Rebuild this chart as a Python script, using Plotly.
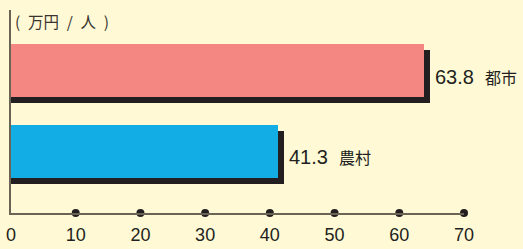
import plotly.graph_objects as go

categories = ["農村", "都市"]
values = [41.3, 63.8]
positions = [1, 2]
bar_colors = ["#12ade4", "#f58783"]
tick_vals = [0, 10, 20, 30, 40, 50, 60, 70]
dot_vals = [10, 20, 30, 40, 50, 60, 70]
unit_label = "(\u2002万円\u2002/\u2002人\u2002)"

BG = "#fffad5"
INK = "#231f20"
AXIS = "#6b6354"
FONT = "Liberation Sans, Arial, Noto Sans CJK JP"
CJK = "Noto Sans CJK JP"

y_lo, y_hi = 0.23, 2.752
bar_w = 0.658
shadow_dy = 0.08
shadow_dx = 0.93

fig = go.Figure()

# shadows
fig.add_trace(go.Bar(
    x=[v + shadow_dx for v in values],
    y=[p - shadow_dy for p in positions],
    orientation="h", width=bar_w,
    marker=dict(color=INK, line=dict(width=0)),
    hoverinfo="skip", showlegend=False,
))
# bars
fig.add_trace(go.Bar(
    x=values, y=positions, orientation="h", width=bar_w,
    marker=dict(color=bar_colors, line=dict(width=0)),
    showlegend=False,
))
# tick dots
fig.add_trace(go.Scatter(
    x=dot_vals, y=[y_lo] * len(dot_vals), mode="markers",
    marker=dict(color=INK, size=8), cliponaxis=False,
    hoverinfo="skip", showlegend=False,
))

for v, p, c in zip(values, positions, categories):
    fig.add_annotation(
        x=v, y=p, xref="x", yref="y", xanchor="left", yanchor="middle",
        xshift=9, yshift=-6, showarrow=False,
        text=f"{v:.1f}  <span style='font-size:16px;font-family:{CJK}'>{c}</span>",
        font=dict(size=20, color=INK, family=FONT),
    )

fig.add_annotation(
    x=0, y=1, xref="paper", yref="paper", xanchor="left", yanchor="middle",
    xshift=2, yshift=-11, showarrow=False, text=unit_label,
    font=dict(size=15.5, color="#3a3430", family=CJK),
)

fig.update_layout(
    width=523, height=249,
    margin=dict(l=11, r=59, t=10, b=36, autoexpand=False),
    paper_bgcolor=BG, plot_bgcolor=BG,
    barmode="overlay", bargap=0,
    font=dict(family=FONT, color=INK),
    xaxis=dict(
        range=[0, 70], tickvals=tick_vals, ticks="", showgrid=False,
        zeroline=False, showline=True, linecolor=AXIS, linewidth=2,
        tickfont=dict(size=18, color=INK, family=FONT), fixedrange=True,
        automargin=False, ticklabelstandoff=4,
    ),
    yaxis=dict(
        range=[y_lo, y_hi], showticklabels=False, ticks="", showgrid=False,
        zeroline=False, showline=True, linecolor=AXIS, linewidth=2,
        fixedrange=True, automargin=False,
    ),
)

fig.write_html(
    "out.html",
    config={"displayModeBar": False, "staticPlot": True},
    post_script="document.body.style.margin='0';document.body.style.background='#fffad5';",
)
